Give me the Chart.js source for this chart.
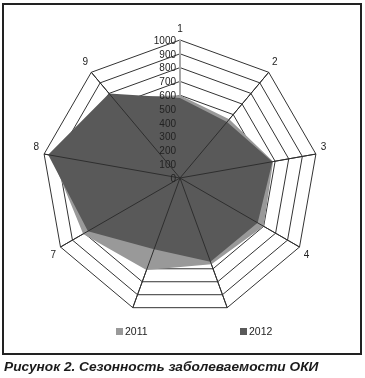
<!DOCTYPE html>
<html>
<head>
<meta charset="utf-8">
<script src="https://cdn.jsdelivr.net/npm/chart.js@4"></script>
<style>
    body { margin: 0; background: #fff; width: 365px; height: 378px; position: relative; overflow: hidden; }
    #frame { position: absolute; left: 2px; top: 3px; width: 356px; height: 348px; border: 2px solid #222; }
    #chart { position: absolute; left: 0; top: 0; }
    .leg { position: absolute; top: 325px; font: 10.5px "Liberation Sans", Arial, sans-serif; color: #222; }
    .leg i { display: inline-block; width: 7px; height: 7px; margin-right: 2px; vertical-align: 0px; }
    #caption { position: absolute; left: 4px; top: 359px; font: italic bold 13.7px "Liberation Sans", Arial, sans-serif; color: #1a1a1a; white-space: nowrap; }
</style>
</head>
<body>
<div id="frame"></div>
<canvas id="chart" width="365" height="330"></canvas>
<div class="leg" style="left:116px"><i style="background:#999999"></i>2011</div>
<div class="leg" style="left:240px"><i style="background:#595959"></i>2012</div>
<div id="caption">Рисунок 2. Сезонность заболеваемости ОКИ</div>

<script>
// axes of the radar (the original hides labels 5 and 6)
const axisLabels = ['1', '2', '3', '4', '5', '6', '7', '8', '9'];
const hiddenLabels = ['5', '6'];
const values2011 = [600, 555, 685, 700, 665, 710, 810, 950, 760];
const values2012 = [580, 530, 680, 650, 645, 550, 770, 970, 800];
const tickValues = [0, 100, 200, 300, 400, 500, 600, 700, 800, 900, 1000];

// spokes on top of the fill + value labels left of axis 1
const overlay = {
    id: 'overlay',
    afterDatasetsDraw(chart) {
        const r = chart.scales.r;
        const ctx = chart.ctx;
        ctx.save();
        ctx.strokeStyle = '#2e2e2e';
        ctx.lineWidth = 1;
        for (let i = 1; i < axisLabels.length; i++) {
            const p = r.getPointPositionForValue(i, r.max);
            ctx.beginPath();
            ctx.moveTo(r.xCenter, r.yCenter);
            ctx.lineTo(p.x, p.y);
            ctx.stroke();
        }
        ctx.font = '10px "Liberation Sans", Arial, sans-serif';
        ctx.fillStyle = '#222';
        ctx.textAlign = 'right';
        ctx.textBaseline = 'middle';
        tickValues.forEach(v => {
            ctx.fillText(String(v), r.xCenter - 4, r.yCenter - r.getDistanceFromCenterForValue(v) + 1);
        });
        ctx.restore();
    }
};

new Chart(document.getElementById('chart'), {
    type: 'radar',
    data: {
        labels: axisLabels,
        datasets: [
            {
                label: '2011',
                data: values2011,
                backgroundColor: '#999999',
                borderWidth: 0,
                pointRadius: 0,
                fill: true,
                order: 2
            },
            {
                label: '2012',
                data: values2012,
                backgroundColor: '#595959',
                borderWidth: 0,
                pointRadius: 0,
                fill: true,
                order: 1
            }
        ]
    },
    options: {
        responsive: false,
        animation: false,
        layout: { padding: { top: 19, left: 15, right: 20, bottom: 1 } },
        plugins: {
            legend: { display: false },
            tooltip: { enabled: false }
        },
        scales: {
            r: {
                min: 0,
                max: 1000,
                ticks: { display: false, stepSize: 100 },
                grid: { color: '#333', lineWidth: 1 },
                angleLines: {
                    color: ctx => ctx.index === 0 ? '#a8a8a8' : '#333',
                    lineWidth: ctx => ctx.index === 0 ? 2 : 1
                },
                pointLabels: {
                    color: '#222',
                    padding: 5,
                    font: { family: '"Liberation Sans", Arial, sans-serif', size: 10 },
                    callback: lbl => hiddenLabels.includes(lbl) ? '' : lbl
                }
            }
        }
    },
    plugins: [overlay]
});
</script>
</body>
</html>
